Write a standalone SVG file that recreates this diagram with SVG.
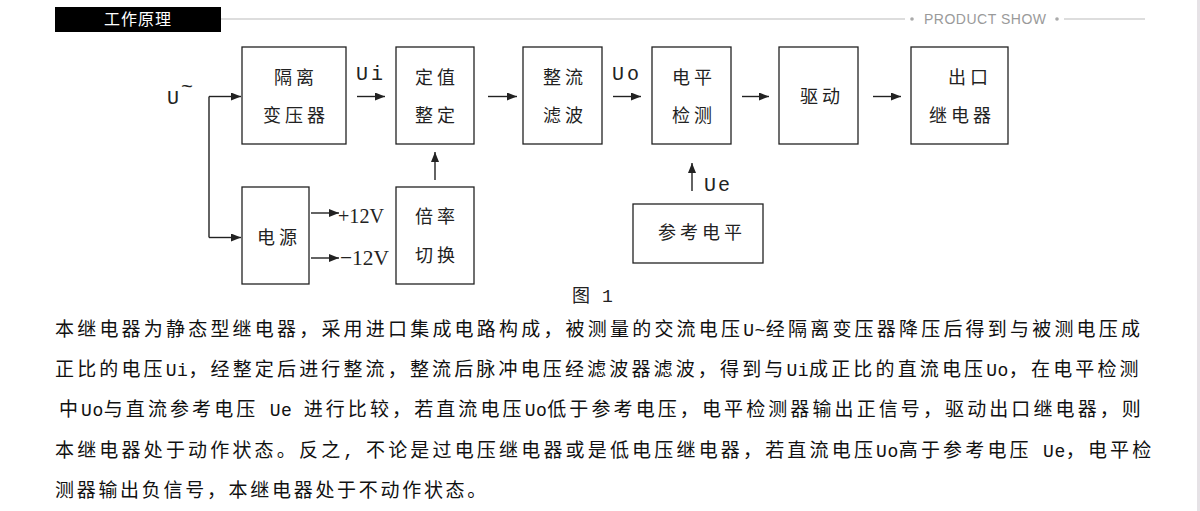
<svg xmlns="http://www.w3.org/2000/svg" width="1200" height="511" viewBox="0 0 1200 511">
<style>
.box{fill:#fff;stroke:#222;stroke-width:1.3}
.lbl{font-family:"Noto Sans CJK SC","Noto Sans",sans-serif;font-size:18px;fill:#222;letter-spacing:4px;text-anchor:middle}
.lat{font-family:"Liberation Mono",monospace;font-size:20px;fill:#222}
.ser{font-family:"Liberation Serif",serif;font-size:22px;fill:#222}
.body{font-family:"Noto Sans CJK SC","Noto Sans",sans-serif;font-size:19px;fill:#111}
.e{font-family:"Liberation Mono",monospace;font-size:18px;letter-spacing:0.5px}
.con{stroke:#222;stroke-width:1.4;fill:none}
</style>
<defs>
<marker id="ah" markerWidth="10" markerHeight="8" refX="10" refY="4" orient="auto" markerUnits="userSpaceOnUse">
<path d="M0,0 L10,4 L0,8 Z" fill="#222"/>
</marker>
</defs>
<rect width="1200" height="511" fill="#fff"/>
<rect x="1197" y="0" width="3" height="511" fill="#e6e2e6"/>
<g id="header">
<rect x="55" y="7" width="166" height="25" fill="#000"/>
<text x="138" y="25" font-family="Noto Sans CJK SC,sans-serif" font-size="16" fill="#fff" text-anchor="middle" letter-spacing="1">工作原理</text>
<line x1="221" y1="19" x2="905" y2="19" stroke="#bbb" stroke-width="1"/>
<circle cx="912" cy="19" r="1.8" fill="#aaa"/>
<text x="924" y="24" font-family="Liberation Sans,sans-serif" font-size="14" fill="#9a9a9a" textLength="122" lengthAdjust="spacing">PRODUCT SHOW</text>
<circle cx="1057" cy="19" r="1.8" fill="#aaa"/>
<line x1="1064" y1="19" x2="1145" y2="19" stroke="#bbb" stroke-width="1"/>
</g>
<g id="n-isolate"><rect class="box" x="242" y="47" width="104" height="97"/><text class="lbl" x="296" y="84">隔离</text><text class="lbl" x="296" y="122">变压器</text></g>
<g id="n-setting"><rect class="box" x="396" y="47" width="78" height="97"/><text class="lbl" x="437" y="84">定值</text><text class="lbl" x="437" y="122">整定</text></g>
<g id="n-rectify"><rect class="box" x="523" y="47" width="79" height="97"/><text class="lbl" x="565" y="84">整流</text><text class="lbl" x="565" y="122">滤波</text></g>
<g id="n-level"><rect class="box" x="652" y="47" width="79" height="97"/><text class="lbl" x="694" y="84">电平</text><text class="lbl" x="694" y="122">检测</text></g>
<g id="n-drive"><rect class="box" x="779" y="47" width="79" height="97"/><text class="lbl" x="822" y="103">驱动</text></g>
<g id="n-output"><rect class="box" x="911" y="47" width="97" height="97"/><text class="lbl" x="970" y="84">出口</text><text class="lbl" x="962" y="122">继电器</text></g>
<g id="n-power"><rect class="box" x="242" y="187" width="67" height="97"/><text class="lbl" x="279" y="244">电源</text></g>
<g id="n-ratio"><rect class="box" x="396" y="187" width="78" height="97"/><text class="lbl" x="437" y="223">倍率</text><text class="lbl" x="437" y="262">切换</text></g>
<g id="n-ref"><rect class="box" x="633" y="204" width="130" height="59"/><text class="lbl" x="702" y="239">参考电平</text></g>
<g id="connectors">
<polyline class="con" points="209,96.5 209,237.5"/>
<line class="con" x1="209" y1="96.5" x2="241" y2="96.5" marker-end="url(#ah)"/>
<line class="con" x1="209" y1="237.5" x2="241" y2="237.5" marker-end="url(#ah)"/>
<line class="con" x1="357" y1="96.5" x2="385" y2="96.5" marker-end="url(#ah)"/>
<line class="con" x1="488" y1="96.5" x2="517" y2="96.5" marker-end="url(#ah)"/>
<line class="con" x1="613" y1="96.5" x2="641" y2="96.5" marker-end="url(#ah)"/>
<line class="con" x1="742" y1="96.5" x2="769" y2="96.5" marker-end="url(#ah)"/>
<line class="con" x1="873" y1="96.5" x2="901" y2="96.5" marker-end="url(#ah)"/>
<line class="con" x1="435" y1="180" x2="435" y2="152" marker-end="url(#ah)"/>
<line class="con" x1="692" y1="191" x2="692" y2="163" marker-end="url(#ah)"/>
<line class="con" x1="311" y1="213" x2="339" y2="213" marker-end="url(#ah)"/>
<line class="con" x1="311" y1="258" x2="339" y2="258" marker-end="url(#ah)"/>
</g>
<g id="labels">
<text class="lat" x="167" y="104">U</text>
<text class="lat" x="181" y="93" font-size="18">~</text>
<text class="lat" x="356" y="80" letter-spacing="3">Ui</text>
<text class="lat" x="612" y="80" letter-spacing="3">Uo</text>
<text class="lat" x="704" y="191" letter-spacing="2">Ue</text>
<text class="ser" x="338" y="223" textLength="46" lengthAdjust="spacingAndGlyphs">+12V</text>
<text class="ser" x="340" y="265" textLength="49" lengthAdjust="spacingAndGlyphs">−12V</text>
<text x="572" y="302" font-family="Noto Sans CJK SC,sans-serif" font-size="18" fill="#222">图</text>
<text x="602" y="302" font-family="Liberation Mono,monospace" font-size="18" fill="#222">1</text>
</g>
<g id="paragraph">
<text class="body" x="55" y="336" letter-spacing="3.2">本继电器为静态型继电器，采用进口集成电路构成，被测量的交流电压<tspan class="e">U~</tspan>经隔离变压器降压后得到与被测电压成</text>
<text class="body" x="55" y="376" letter-spacing="3.15">正比的电压<tspan class="e">Ui</tspan>，经整定后进行整流，整流后脉冲电压经滤波器滤波，得到与<tspan class="e">Ui</tspan>成正比的直流电压<tspan class="e">Uo</tspan>，在电平检测</text>
<text class="body" x="59" y="416" letter-spacing="3.1">中<tspan class="e">Uo</tspan>与直流参考电压<tspan class="e" xml:space="preserve"> Ue </tspan>进行比较，若直流电压<tspan class="e">Uo</tspan>低于参考电压，电平检测器输出正信号，驱动出口继电器，则</text>
<text class="body" x="55" y="457" letter-spacing="3.18">本继电器处于动作状态。反之<tspan class="e" xml:space="preserve">, </tspan>不论是过电压继电器或是低电压继电器，若直流电压<tspan class="e">Uo</tspan>高于参考电压<tspan class="e" xml:space="preserve"> Ue</tspan>，电平检</text>
<text class="body" x="55" y="497" letter-spacing="2.7">测器输出负信号，本继电器处于不动作状态。</text>
</g>
</svg>
